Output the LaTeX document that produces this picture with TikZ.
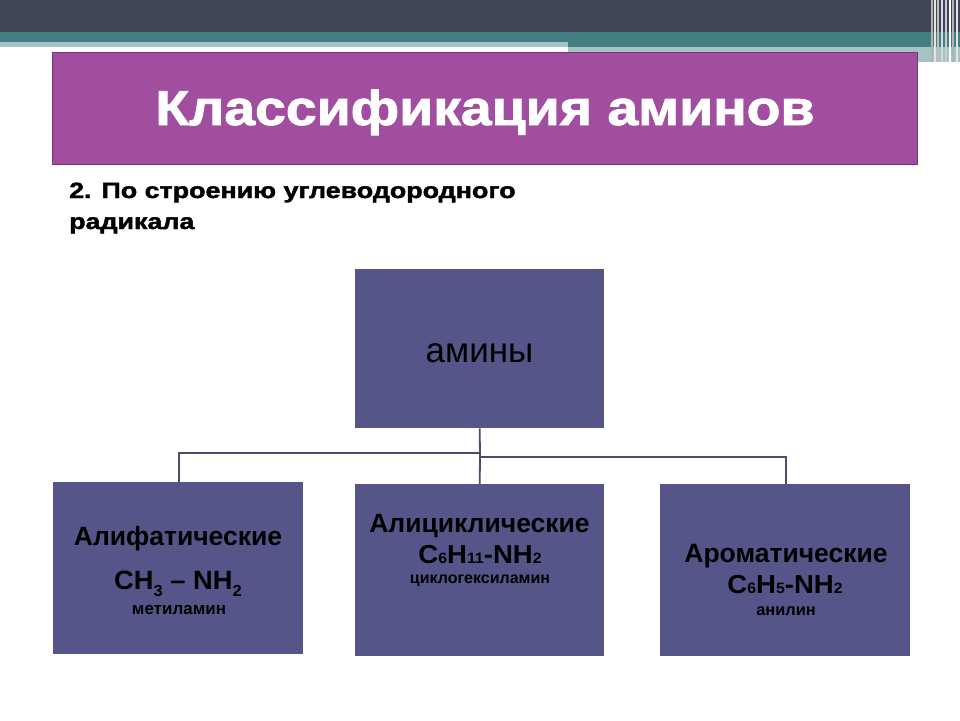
\documentclass[tikz,border=0pt]{standalone}
\usepackage{fontspec}
\setmainfont{Liberation Sans}
\newfontfamily\heavyfont[FakeBold=1.6]{Liberation Sans Bold}
\definecolor{topbar}{HTML}{414356}
\definecolor{tealband}{HTML}{437E82}
\definecolor{lightband}{HTML}{A5C3C6}
\definecolor{titlepurple}{HTML}{A24EA0}
\definecolor{titleborder}{HTML}{72386F}
\definecolor{boxfill}{HTML}{55558A}
\definecolor{linkcol}{HTML}{4C4C6C}
\tikzset{
  catbox/.style={draw=none, fill=boxfill, rectangle, inner sep=0pt, anchor=north west},
  link/.style={draw=linkcol, line width=1.8pt},
  txt/.style={inner sep=0pt, anchor=base, text=black},
  head/.style={txt, font=\fontsize{26.5}{30}\selectfont\bfseries},
  formula/.style={txt, font=\fontsize{26}{30}\selectfont\bfseries},
}
\begin{document}
\begin{tikzpicture}[x=1pt,y=-1pt]
\useasboundingbox (0,0) rectangle (960,720);
\fill[white] (0,0) rectangle (960,720);
% header bands
\fill[topbar] (0,0) rectangle (960,32);
\fill[tealband] (0,32) rectangle (960,42);
\fill[lightband] (0,42) rectangle (568,47);
\fill[tealband] (568,42) rectangle (960,47);
\fill[lightband] (568,47) rectangle (960,62);
\foreach \xx/\cc in {931/gray!60,934/white!80!gray,937/gray!50,941/white!70!gray,945/gray!40,949/white,952/gray!60,956/white!80!gray}
  \fill[\cc] (\xx,0) rectangle ++(1.6,62);
% title
\node[draw=titleborder, line width=1.2pt, fill=titlepurple, rectangle, inner sep=0pt,
  anchor=north west, minimum width=865pt, minimum height=112pt] (title) at (52,52) {};
\node[inner sep=0pt, anchor=base, text=white, font=\fontsize{49}{55}\selectfont\heavyfont] (titletext) at (485,125) {\scalebox{1.13}[1]{Классификация аминов}};
% subtitle
\node[inner sep=0pt, anchor=base west, font=\fontsize{22}{26}\selectfont\heavyfont] (sub1) at (69,198) {\scalebox{1.22}[1]{2. По строению углеводородного}};
\node[inner sep=0pt, anchor=base west, font=\fontsize{22}{26}\selectfont\heavyfont] (sub2) at (69,229) {\scalebox{1.22}[1]{радикала}};
% boxes
\node[catbox, minimum width=249pt, minimum height=159pt] (root) at (355,269) {};
\node[catbox, minimum width=250pt, minimum height=172pt] (left) at (53,482) {};
\node[catbox, minimum width=249pt, minimum height=172pt] (mid) at (355,484) {};
\node[catbox, minimum width=250pt, minimum height=172pt] (right) at (660,484) {};
\node[inner sep=0pt, anchor=base, font=\fontsize{35}{40}\selectfont] (roottext) at (479.5,362) {амины};
% connectors
\coordinate (j1) at (480,453);
\coordinate (j2) at (480,457);
\draw[link] (root.south) -- (j2);
\draw[link] (j1) -| (left.north -| 179,0);
\draw[link] (j2) -- (mid.north);
\draw[link] (j2) -| (786,484);
% left text
\node[head] (l1) at (178,545) {Алифатические};
\node[txt, font=\fontsize{26.5}{30}\selectfont\bfseries] (l2) at (178,589) {\scalebox{1.03}[1]{CH\raisebox{-7pt}{\fontsize{16}{17}\selectfont 3} – NH\raisebox{-7pt}{\fontsize{16}{17}\selectfont 2}}};
\node[txt, font=\fontsize{17}{19}\selectfont\bfseries] (l3) at (179,614) {метиламин};
% middle text
\node[head] (m1) at (479.5,532) {Алициклические};
\node[formula] (m2) at (480,563) {\scalebox{1.06}[1]{C{\fontsize{15}{16}\selectfont 6}H{\fontsize{15}{16}\selectfont 11}-NH{\fontsize{15}{16}\selectfont 2}}};
\node[txt, font=\fontsize{16}{18}\selectfont\bfseries] (m3) at (480,583) {циклогексиламин};
% right text
\node[head] (r1) at (786,562) {Ароматические};
\node[formula] (r2) at (785,593) {\scalebox{1.06}[1]{C{\fontsize{15}{16}\selectfont 6}H{\fontsize{15}{16}\selectfont 5}-NH{\fontsize{15}{16}\selectfont 2}}};
\node[txt, font=\fontsize{16.4}{18}\selectfont\bfseries] (r3) at (786,615) {анилин};
\end{tikzpicture}
\end{document}
